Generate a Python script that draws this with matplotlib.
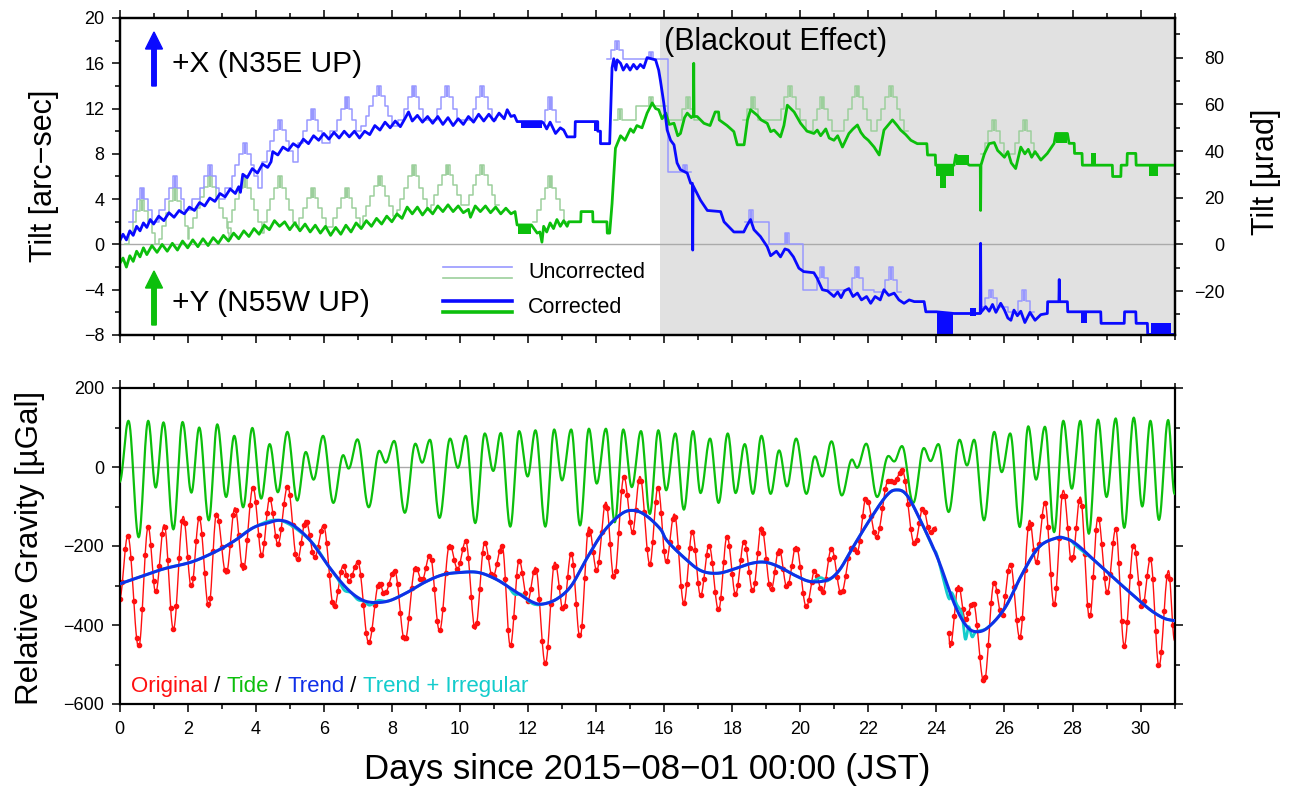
import numpy as np
import matplotlib
matplotlib.use("Agg")
import matplotlib.pyplot as plt
from matplotlib.ticker import MultipleLocator
from matplotlib.patches import FancyArrow
from matplotlib.transforms import IdentityTransform

plt.rcParams['font.family'] = ['Liberation Sans', 'DejaVu Sans']

# ------------------------------------------------------------------ DATA
# ---- Top panel: tilt [arc-sec]
tilt_x_day = [0.00, 0.10, 0.20, 0.30, 0.40, 0.50, 0.60, 0.70, 0.80, 0.90, 1.00, 1.15, 1.30, 1.45, 1.60,
              1.75, 1.90, 2.05, 2.20, 2.35, 2.50, 2.65, 2.80, 2.95, 3.10, 3.25, 3.40, 3.50, 3.55, 3.62,
              3.75, 3.90, 4.05, 4.20, 4.35, 4.45, 4.50, 4.65, 4.80, 4.95, 5.10, 5.25, 5.40, 5.55, 5.70,
              5.85, 6.00, 6.15, 6.30, 6.45, 6.60, 6.75, 6.90, 7.05, 7.20, 7.35, 7.50, 7.65, 7.80, 7.95,
              8.10, 8.25, 8.40, 8.49, 8.60, 8.75, 8.90, 9.05, 9.20, 9.35, 9.50, 9.65, 9.80, 9.95, 10.10,
              10.25, 10.40, 10.55, 10.70, 10.85, 11.00, 11.15, 11.30, 11.39, 11.50, 11.60, 11.68, 12.40,
              12.46, 12.55, 12.65, 12.81, 12.95, 13.05, 13.15, 13.38, 13.39, 14.05, 14.05, 14.13, 14.13,
              14.40, 14.47, 14.52, 14.58, 14.62, 14.72, 14.80, 14.90, 15.00, 15.10, 15.20, 15.30, 15.40,
              15.50, 15.75, 15.84, 15.89, 15.99, 16.09, 16.19, 16.29, 16.38, 16.48, 16.68, 16.78, 16.83,
              16.84, 16.85, 16.97, 17.07, 17.27, 17.66, 17.76, 18.05, 18.34, 18.44, 18.54, 18.64, 18.83,
              19.03, 19.13, 19.30, 19.42, 19.55, 19.65, 19.80, 19.96, 20.10, 20.40, 20.50, 20.65, 20.80,
              20.99, 21.10, 21.20, 21.30, 21.43, 21.55, 21.68, 21.80, 21.95, 22.07, 22.20, 22.35, 22.46,
              22.60, 22.76, 22.90, 23.05, 23.20, 23.35, 23.64, 23.69, 24.00, 24.52, 25.11, 25.29, 25.30,
              25.31, 25.45, 25.55, 25.65, 25.75, 25.89, 26.00, 26.10, 26.19, 26.28, 26.38, 26.48, 26.60,
              26.75, 26.90, 27.07, 27.26, 27.27, 27.60, 27.61, 27.62, 27.85, 27.86, 28.83, 28.84, 29.52,
              29.53, 29.86, 29.87, 30.20, 30.21, 31.00]
tilt_x_val = [0.3, 0.9, 0.4, 1.2, 0.8, 1.6, 1.2, 1.9, 1.5, 2.2, 1.8, 2.5, 2.1, 2.8, 2.4,
              3.0, 2.7, 3.3, 3.0, 3.7, 3.4, 4.1, 3.8, 4.5, 4.2, 4.9, 4.5, 5.1, 4.6, 6.2,
              5.9, 6.7, 6.3, 7.1, 6.8, 7.3, 8.2, 7.9, 8.6, 8.3, 8.9, 8.6, 9.3, 8.9, 9.6,
              9.2, 9.8, 9.3, 9.9, 9.4, 10.0, 9.5, 10.0, 9.4, 10.0, 9.7, 10.5, 10.1, 10.8, 10.3,
              10.9, 10.4, 11.2, 11.7, 10.9, 11.4, 10.8, 11.3, 10.7, 11.3, 10.6, 11.2, 10.5, 11.1, 10.6,
              11.3, 10.8, 11.5, 10.9, 11.5, 10.9, 11.6, 11.1, 11.9, 11.3, 11.4, 10.85, 10.85,
              10.7, 10.2, 10.8, 9.8, 10.3, 10.1, 9.5, 9.5, 10.85, 10.85, 10.0, 10.0, 8.9,
              8.9, 15.6, 16.4, 15.4, 16.3, 16.0, 15.4, 15.9, 15.4, 15.9, 15.5, 15.9, 15.6,
              16.5, 16.3, 15.4, 14.5, 12.5, 10.1, 9.2, 8.8, 7.2, 6.6, 6.3, 5.4, 5.4,
              -0.5, 5.2, 4.5, 3.9, 3.0, 2.9, 2.0, 1.1, 1.1, 1.7, 2.2, 1.3, 0.7,
              -0.2, -1.0, -0.6, -1.1, -0.4, -0.5, -1.1, -2.1, -2.4, -2.5, -3.0, -4.0, -4.1,
              -4.6, -4.2, -4.7, -4.1, -3.9, -4.6, -4.3, -4.9, -4.6, -5.2, -4.6, -4.9, -4.0,
              -4.5, -4.3, -4.9, -5.2, -4.9, -5.05, -5.05, -5.95, -5.95, -6.1, -6.1, -6.1, 0.1,
              -6.0, -5.5, -5.9, -5.3, -6.0, -5.2, -5.8, -6.5, -6.7, -5.8, -6.3, -5.9, -6.9,
              -6.0, -6.7, -6.2, -6.1, -5.06, -5.06, -3.1, -5.06, -5.06, -5.95, -5.95, -6.97, -6.97,
              -5.95, -5.95, -6.97, -6.97, -7.95, -7.95]

tilt_y_day = [0.00, 0.10, 0.20, 0.30, 0.40, 0.50, 0.60, 0.70, 0.80, 0.95, 1.10, 1.25, 1.40, 1.55, 1.70,
              1.85, 2.00, 2.15, 2.30, 2.45, 2.60, 2.75, 2.90, 3.05, 3.20, 3.35, 3.50, 3.65, 3.80, 3.95,
              4.10, 4.25, 4.40, 4.55, 4.70, 4.85, 5.00, 5.15, 5.30, 5.45, 5.60, 5.75, 5.90, 6.05, 6.20,
              6.35, 6.50, 6.65, 6.80, 6.95, 7.10, 7.25, 7.40, 7.55, 7.70, 7.85, 8.00, 8.15, 8.30, 8.45,
              8.60, 8.75, 8.90, 9.05, 9.20, 9.35, 9.50, 9.65, 9.80, 9.95, 10.10, 10.25, 10.31, 10.45,
              10.60, 10.75, 10.90, 11.05, 11.20, 11.35, 11.50, 11.62, 11.68, 12.10, 12.27, 12.35, 12.41,
              12.46, 12.55, 12.65, 12.75, 12.85, 12.95, 13.05, 13.15, 13.20, 13.55, 13.56, 13.90, 13.91,
              14.32, 14.33, 14.40, 14.47, 14.57, 14.72, 14.85, 15.01, 15.10, 15.20, 15.35, 15.50, 15.65,
              15.75, 15.84, 15.94, 16.05, 16.15, 16.29, 16.40, 16.48, 16.60, 16.68, 16.80, 16.86, 16.87,
              16.88, 16.97, 17.17, 17.35, 17.50, 17.60, 17.62, 17.85, 18.05, 18.15, 18.35, 18.45, 18.54,
              18.74, 18.85, 19.03, 19.13, 19.23, 19.42, 19.52, 19.62, 19.82, 20.01, 20.20, 20.40, 20.50,
              20.60, 20.75, 20.85, 20.99, 21.10, 21.24, 21.43, 21.55, 21.68, 21.78, 21.88, 22.00, 22.17,
              22.32, 22.46, 22.71, 22.85, 22.95, 23.10, 23.25, 23.44, 23.72, 23.74, 23.97, 23.98, 24.52,
              24.57, 24.97, 25.29, 25.30, 25.31, 25.41, 25.55, 25.70, 25.80, 25.89, 26.00, 26.10, 26.20,
              26.33, 26.40, 26.48, 26.60, 26.70, 26.80, 26.90, 27.07, 27.26, 27.46, 27.51, 27.85, 27.90,
              28.05, 28.06, 28.28, 28.29, 29.17, 29.18, 29.42, 29.43, 29.60, 29.61, 29.86, 29.87, 31.00]
tilt_y_val = [-1.7, -1.2, -2.0, -1.0, -1.5, -0.6, -1.1, -0.3, -0.9, -0.1, -0.7, 0.0, -0.6, 0.1, -0.5,
              0.3, -0.3, 0.4, -0.2, 0.5, -0.1, 0.6, 0.1, 0.8, 0.3, 1.0, 0.5, 1.2, 0.7, 1.4,
              0.9, 1.7, 1.3, 2.1, 1.6, 2.0, 1.3, 1.9, 1.2, 1.8, 1.1, 1.7, 1.0, 1.6, 0.8,
              1.5, 0.9, 1.7, 1.1, 1.9, 1.4, 2.1, 1.6, 2.3, 1.8, 2.5, 2.0, 2.7, 2.3, 3.3,
              2.7, 3.3, 2.6, 3.2, 2.7, 3.4, 2.9, 3.5, 2.9, 3.4, 2.8, 3.1, 2.4, 3.4,
              2.9, 3.4, 2.8, 3.3, 2.7, 3.2, 2.7, 2.9, 1.72, 1.72, 1.0, 1.1, 0.2,
              1.6, 1.1, 1.9, 1.4, 2.2, 1.6, 2.1, 1.6, 2.0, 2.0, 2.9, 2.9, 2.0,
              2.0, 1.0, 1.0, 3.6, 8.5, 9.6, 9.2, 10.2, 9.9, 10.5, 10.3, 11.6, 12.5,
              12.0, 11.9, 11.1, 11.6, 10.6, 10.7, 9.6, 9.8, 11.2, 11.6, 11.2, 11.4, 16.0,
              11.3, 11.3, 10.7, 10.5, 11.7, 11.7, 11.0, 10.5, 9.96, 8.8, 8.8, 11.0, 11.9,
              11.4, 11.0, 10.7, 9.96, 10.1, 9.5, 10.5, 12.3, 11.7, 10.7, 10.0, 9.8, 10.1,
              9.6, 10.2, 9.4, 9.2, 9.6, 8.6, 9.8, 10.2, 10.55, 9.9, 9.5, 9.2, 8.6,
              7.9, 10.1, 11.0, 10.5, 10.1, 9.7, 9.2, 8.9, 8.9, 7.9, 7.9, 7.0, 7.0,
              7.9, 7.0, 7.0, 3.0, 7.0, 8.0, 8.9, 9.0, 8.3, 8.04, 7.7, 8.2, 7.2,
              6.7, 7.6, 8.6, 8.0, 8.4, 7.7, 8.2, 7.45, 8.04, 8.93, 9.8, 9.8, 8.93,
              8.93, 8.04, 8.04, 7.0, 7.0, 6.0, 6.0, 7.0, 7.0, 8.04, 8.04, 7.0, 7.0]

# dense-toggle blocks of the corrected records: (start day, end day, low, high)
blocks_x = [(11.80, 12.40, 10.25, 10.85), (13.95, 14.05, 10.0, 10.85), (24.03, 24.50, -7.95, -6.1),
            (25.00, 25.15, -6.3, -5.6), (28.24, 28.44, -6.97, -5.95), (30.30, 30.90, -7.95, -6.97)]
blocks_y = [(11.72, 12.10, 0.9, 1.72), (23.98, 24.52, 6.0, 7.0), (24.12, 24.28, 4.95, 6.0),
            (24.57, 24.97, 7.0, 7.9), (27.51, 27.85, 8.93, 9.8), (28.54, 28.69, 7.0, 8.04),
            (30.25, 30.50, 6.0, 7.0)]

# uncorrected daily staircase humps: centre day, base level, top level [arc-sec]
unc_x_day = [0.67, 1.62, 2.65, 3.68, 4.71, 5.67, 6.67, 7.62, 8.64, 9.62, 10.65, 12.66, 14.62, 15.62,
             16.62, 18.55, 19.60, 20.65, 21.68, 22.66, 25.60, 26.58]
unc_x_base = [2.0, 3.0, 4.0, 5.0, 7.3, 9.0, 10.0, 10.5, 11.0, 11.0, 11.0, 10.8, 16.4, 16.4,
              6.4, 2.0, 0.0, -4.0, -4.0, -4.2, -5.5, -6.0]
unc_x_top = [5.0, 6.0, 7.0, 9.0, 11.0, 12.0, 13.0, 14.0, 14.0, 14.0, 14.0, 13.0, 18.0, 17.0,
             7.0, 3.0, 1.0, -2.0, -2.0, -2.0, -4.0, -4.0]
unc_y_day = [0.66, 1.63, 2.65, 3.68, 4.71, 5.67, 6.67, 7.64, 8.64, 9.64, 10.65, 12.66, 14.70, 15.62,
             16.70, 18.60, 19.70, 20.65, 21.68, 22.66, 25.70, 26.60]
unc_y_base = [0.0, 0.5, 0.5, 1.0, 2.0, 1.5, 1.5, 2.5, 3.0, 3.5, 3.5, 2.0, 11.0, 12.2,
              11.0, 11.0, 11.0, 10.0, 10.0, 10.0, 8.0, 8.0]
unc_y_top = [3.9, 5.0, 6.0, 6.0, 6.0, 5.0, 5.0, 6.0, 7.0, 7.0, 7.0, 6.0, 12.0, 13.0,
             13.0, 13.0, 14.0, 13.0, 14.0, 14.0, 11.0, 11.0]

blackout_start = 15.875

# ---- Bottom panel: gravity [µGal]
tide_day = [0.00, 0.26, 0.56, 0.84, 1.06, 1.29, 1.58, 1.85, 2.11, 2.34, 2.62, 2.87, 3.13, 3.37, 3.63,
            3.90, 4.16, 4.41, 4.65, 4.93, 5.22, 5.47, 5.70, 5.98, 6.28, 6.57, 6.73, 6.99, 7.32, 7.63,
            7.82, 8.07, 8.38, 8.69, 8.89, 9.12, 9.40, 9.71, 9.94, 10.17, 10.45, 10.73, 10.98, 11.20,
            11.48, 11.74, 11.99, 12.22, 12.51, 12.77, 13.00, 13.27, 13.53, 13.79, 14.02, 14.29, 14.55,
            14.80, 15.05, 15.32, 15.58, 15.83, 16.06, 16.33, 16.58, 16.85, 17.07, 17.35, 17.60, 17.87,
            18.10, 18.37, 18.61, 18.86, 19.13, 19.38, 19.61, 19.88, 20.18, 20.43, 20.65, 20.92, 21.22,
            21.52, 21.67, 21.94, 22.26, 22.59, 22.76, 22.99, 23.32, 23.63, 23.83, 24.06, 24.36, 24.68,
            24.90, 25.11, 25.40, 25.70, 25.92, 26.17, 26.45, 26.70, 26.93, 27.19, 27.46, 27.73, 27.98,
            28.23, 28.48, 28.75, 29.00, 29.27, 29.52, 29.80, 30.05, 30.29, 30.54, 30.81, 31.00]
tide_val = [-38, 117, -178, 117, -52, 113, -158, 114, -65, 100, -135, 108, -76, 79, -102,
            99, -80, 58, -64, 89, -85, 38, -32, 79, -91, 30, -4, 70, -102, 41,
            11, 66, -116, 59, 11, 69, -129, 72, -2, 79, -142, 85, -10, 86,
            -151, 91, -24, 93, -151, 95, -34, 95, -148, 97, -42, 97, -140,
            95, -51, 91, -119, 93, -59, 85, -108, 91, -66, 72, -91, 85,
            -66, 58, -68, 79, -68, 42, -49, 72, -68, 27, -24, 65, -72,
            19, -2, 59, -76, 28, 14, 53, -91, 48, 15, 58, -114, 69,
            4, 69, -135, 89, -13, 85, -152, 103, -32, 102, -165, 117, -55,
            117, -169, 120, -76, 123, -154, 125, -100, 117, -134, 119, -68]

# observed gravity (peaks / troughs); NaN marks the data gap
orig_day = [0.00, 0.24, 0.56, 0.84, 1.06, 1.31, 1.58, 1.87, 2.11, 2.34, 2.62, 2.85, 3.13, 3.39, 3.63,
            3.92, 4.18, 4.41, 4.65, 4.94, 5.22, 5.47, 5.73, 5.99, 6.30, 6.57, 6.74, 7.00, 7.32, 7.63,
            7.78, 8.08, 8.38, 8.70, 8.88, 9.12, 9.40, 9.70, 9.93, 10.17, 10.45, 10.73, 10.96, 11.24,
            11.48, 11.74, 11.99, 12.22, 12.51, 12.79, 13.04, 13.27, 13.53, 13.79, 14.02, 14.29, 14.53,
            14.82, 15.07, 15.29, 15.58, 15.82, 16.06, 16.30, 16.58, 16.83, 17.07, 17.32, 17.60, 17.85,
            18.10, 18.35, 18.61, 18.86, 19.14, 19.38, 19.61, 19.88, 20.18, 20.43, 20.65, 20.92, 21.20,
            21.52, 21.67, 21.94, 22.24, 22.59, 22.76, 22.99, 23.36, 23.61, 23.81, 23.98, np.nan,
            24.36, 24.40, 24.65, 24.85, 25.08, 25.40, 25.70, 25.92, 26.17, 26.45, 26.74, 26.93, 27.19,
            27.46, 27.73, 27.98, 28.23, 28.50, 28.75, 29.02, 29.27, 29.52, 29.80, 30.05, 30.29, 30.54,
            30.82, 31.00]
orig_val = [-334, -174, -457, -152, -318, -146, -411, -125, -305, -129, -356, -117, -271, -103, -262,
            -52, -224, -80, -195, -49, -237, -135, -229, -148, -356, -250, -288, -241, -445, -292,
            -322, -262, -440, -252, -288, -222, -415, -196, -258, -188, -411, -191, -279, -199,
            -453, -237, -339, -254, -498, -241, -364, -218, -432, -152, -262, -89, -284,
            -25, -165, -24, -246, -51, -241, -119, -345, -163, -326, -199, -362, -176,
            -322, -188, -315, -152, -312, -207, -305, -201, -354, -262, -318, -207, -320,
            -203, -215, -78, -178, -34, -38, -7, -196, -103, -165, -152, np.nan,
            -420, -457, -300, -385, -343, -546, -292, -377, -244, -432, -135, -241, -91,
            -349, -59, -241, -76, -383, -127, -318, -157, -453, -195, -356, -233, -504,
            -262, -440]

trend_day = [0.00, 0.77, 1.29, 2.13, 2.87, 3.39, 3.92, 4.34, 4.71, 5.08, 5.60, 6.13, 6.65, 7.07, 7.44,
             7.91, 8.44, 8.96, 9.49, 10.01, 10.54, 11.06, 11.59, 12.11, 12.43, 12.85, 13.27, 13.69,
             14.21, 14.74, 15.11, 15.47, 15.89, 16.08, 16.58, 17.07, 17.57, 18.07, 18.56, 18.96, 19.36,
             19.86, 20.30, 20.80, 21.15, 21.55, 22.04, 22.54, 22.84, 23.14, 23.53, 24.03, 24.53, 24.88,
             25.17, 25.52, 26.02, 26.52, 27.01, 27.51, 27.76, 28.11, 28.70, 29.30, 29.80, 30.29, 30.69,
             31.00]
trend_val = [-296, -273, -258, -240, -212, -186, -154, -142, -135, -146, -186, -250, -305, -334, -343,
             -339, -318, -292, -273, -267, -267, -284, -313, -341, -347, -334, -301, -237,
             -165, -119, -110, -123, -157, -186, -229, -262, -269, -258, -244, -241, -252,
             -275, -290, -286, -261, -203, -134, -72, -58, -72, -135, -229, -347, -402,
             -417, -406, -356, -271, -203, -180, -180, -195, -241, -288, -326, -362, -383,
             -389]

trirr_day = [0.00, 1.29, 2.13, 2.87, 3.39, 3.92, 4.71, 5.60, 6.13, 6.40, 6.60, 6.80, 7.00, 7.20, 7.35,
             7.60, 7.91, 8.44, 8.96, 9.49, 10.01, 10.54, 11.06, 11.40, 11.60, 11.80, 12.00, 12.20,
             12.43, 12.85, 13.27, 13.69, 14.21, 14.74, 15.11, 15.47, 15.89, 16.08, 16.58, 17.07,
             17.57, 18.07, 18.56, 18.96, 19.36, 19.86, 20.30, 20.60, 20.80, 21.15, 21.55, 22.04,
             22.54, 22.84, 23.14, 23.53, 23.90, 24.03, 24.35, 24.45, 24.60, 24.75, 24.85, 24.95,
             25.05, 25.17, 25.52, 26.02, 26.52, 27.01, 27.51, 27.76, 27.95, 28.11, 28.70, 29.30,
             29.80, 30.29, 30.69, 31.00]
trirr_val = [-296, -258, -240, -212, -186, -154, -135, -186, -250, -282, -312, -318, -336, -340, -350,
             -338, -339, -318, -292, -273, -267, -267, -284, -302, -322, -322, -338, -348,
             -347, -334, -301, -237, -165, -119, -110, -123, -157, -186, -229, -262,
             -269, -258, -244, -241, -252, -275, -290, -280, -288, -261, -203, -134,
             -72, -58, -72, -135, -205, -226, -330, -318, -348, -372, -436, -404,
             -430, -417, -406, -356, -271, -203, -180, -180, -186, -200, -241, -288,
             -326, -362, -383, -389]

ARCSEC_TO_URAD = 4.8481

# ------------------------------------------------------------------ helpers
def eased(days, vals, n=16):
    """Smooth curve through successive extrema (cosine easing between them)."""
    xs, ys = [], []
    t = np.linspace(0, 1, n, endpoint=False)
    w = (1 - np.cos(np.pi * t)) / 2
    for i in range(len(days) - 1):
        xs.append(days[i] + (days[i + 1] - days[i]) * t)
        ys.append(vals[i] + (vals[i + 1] - vals[i]) * w)
    xs.append([days[-1]]); ys.append([vals[-1]])
    return np.concatenate(xs), np.concatenate(ys)


def catmull(days, vals, n=16):
    P = np.column_stack([days, vals]).astype(float)
    P = np.vstack([P[0], P, P[-1]])
    out = []
    s = np.linspace(0, 1, n, endpoint=False)[:, None]
    for i in range(1, len(P) - 2):
        p0, p1, p2, p3 = P[i - 1], P[i], P[i + 1], P[i + 2]
        c = 0.5 * ((2 * p1) + (-p0 + p2) * s + (2 * p0 - 5 * p1 + 4 * p2 - p3) * s ** 2
                   + (-p0 + 3 * p1 - 3 * p2 + p3) * s ** 3)
        out.append(c)
    out.append(P[-2][None, :])
    out = np.vstack(out)
    return out[:, 0], out[:, 1]


def split_nan(days, vals):
    segs, cd, cv = [], [], []
    for d, v in zip(days, vals):
        if np.isnan(d):
            segs.append((cd, cv)); cd, cv = [], []
        else:
            cd.append(d); cv.append(v)
    if cd:
        segs.append((cd, cv))
    return segs


def humps(days, bases, tops, w=0.11, tab=0.12, ext=0.12, max_gap=1.2):
    segs, xs, ys = [], [], []
    prev_end = None
    tabs = []
    for c, b, t in zip(days, bases, tops):
        n = max(1, int(round(abs(t - b))))
        h = (t - b) / n
        left = c - tab / 2 - (n - 1) * w
        right = c + tab / 2 + (n - 1) * w
        if xs and left - prev_end > max_gap:
            xs.append(prev_end + ext); ys.append(ys[-1])
            segs.append((xs, ys)); xs, ys = [], []
        if xs:
            mid = (prev_end + left) / 2
            xs += [mid, mid]; ys += [ys[-1], b]
        else:
            xs.append(left - ext); ys.append(b)
        for i in range(n):
            x = left + i * w
            xs += [x, x]; ys += [b + i * h, b + (i + 1) * h]
        for i in range(n):
            x = c + tab / 2 + i * w
            xs += [x, x]; ys += [t - i * h, t - (i + 1) * h]
        prev_end = right
        tabs.append((c, t - h, t))
    if xs:
        xs.append(prev_end + ext); ys.append(ys[-1])
        segs.append((xs, ys))
    return segs, tabs

# ------------------------------------------------------------------ figure
W, H = 1293, 793
fig = plt.figure(figsize=(W / 100, H / 100), dpi=100)
fig.patch.set_facecolor('white')


def fax(l, t, r, b):
    return fig.add_axes([l / W, 1 - b / H, (r - l) / W, (b - t) / H])


ax1 = fax(119.6, 18, 1174.6, 335)
ax2 = fax(119.6, 388, 1174.6, 704)

C_BLUE = '#0a0aff'
C_GREEN = '#0cbf0c'
C_LBLUE = '#9898ff'
C_LGREEN = '#9ccf9c'
C_RED = '#ff1010'
C_CYAN = '#14cccc'
C_TREND = '#1030e8'

# ---- top panel
ax1.set_xlim(0, 31)
ax1.set_ylim(-8, 20)
ax1.axvspan(blackout_start, 31, color='#e1e1e1', lw=0, zorder=0)
ax1.axhline(0, color='#aaaaaa', lw=1.0, zorder=1)

for days, bases, tops, col in [(unc_y_day, unc_y_base, unc_y_top, C_LGREEN),
                               (unc_x_day, unc_x_base, unc_x_top, C_LBLUE)]:
    segs, tabs = humps(days, bases, tops)
    for xs, ys in segs:
        ax1.plot(xs, ys, color=col, lw=1.1, zorder=2)
    for c, lo, hi in tabs:
        ax1.fill_between([c - 0.035, c + 0.035], lo, hi, color=col, lw=0, zorder=2)

ax1.plot(tilt_y_day, tilt_y_val, color=C_GREEN, lw=2.0, zorder=3)
for d0, d1, lo, hi in blocks_y:
    ax1.fill_between([d0, d1], lo, hi, color=C_GREEN, lw=0, zorder=3)
ax1.plot(tilt_x_day, tilt_x_val, color=C_BLUE, lw=2.0, zorder=4)
for d0, d1, lo, hi in blocks_x:
    ax1.fill_between([d0, d1], lo, hi, color=C_BLUE, lw=0, zorder=4)

ax1.xaxis.set_major_locator(MultipleLocator(2))
ax1.xaxis.set_minor_locator(MultipleLocator(1))
ax1.yaxis.set_major_locator(MultipleLocator(4))
ax1.yaxis.set_minor_locator(MultipleLocator(2))
ax1.tick_params(axis='x', which='both', top=True, bottom=True, labelbottom=False, direction='out')
ax1.tick_params(axis='y', which='both', left=True, right=False, direction='out')
ax1.tick_params(which='major', length=6, width=1.1, labelsize=13, pad=5)
ax1.tick_params(which='minor', length=3.5, width=1.1)

ax1r = ax1.twinx()
ax1r.set_ylim(-8 * ARCSEC_TO_URAD, 20 * ARCSEC_TO_URAD)
ax1r.set_yticks([-20, 0, 20, 40, 60, 80])
ax1r.yaxis.set_minor_locator(MultipleLocator(10))
ax1r.tick_params(axis='y', which='major', direction='out', length=6, width=1.1, labelsize=13, pad=30)
ax1r.tick_params(axis='y', which='minor', direction='out', length=3.5, width=1.1)
for lab in ax1r.get_yticklabels():
    lab.set_horizontalalignment('right')

for a in (ax1, ax1r, ax2):
    for s in a.spines.values():
        s.set_linewidth(1.6)

# legend of top panel
ax1.plot([0.3065, 0.372], [0.2155, 0.2155], transform=ax1.transAxes, color=C_LBLUE, lw=1.2, zorder=6)
ax1.plot([0.3065, 0.372], [0.1798, 0.1798], transform=ax1.transAxes, color=C_LGREEN, lw=1.2, zorder=6)
ax1.plot([0.3065, 0.372], [0.1073, 0.1073], transform=ax1.transAxes, color=C_BLUE, lw=2.6, zorder=6)
ax1.plot([0.3065, 0.372], [0.0735, 0.0735], transform=ax1.transAxes, color=C_GREEN, lw=2.6, zorder=6)
ax1.text(0.3871, 0.1965, 'Uncorrected', transform=ax1.transAxes, fontsize=15.5, va='center', ha='left')
ax1.text(0.3871, 0.0883, 'Corrected', transform=ax1.transAxes, fontsize=15.5, va='center', ha='left')

ax1.text(0.0497, 0.855, '+X (N35E UP)', transform=ax1.transAxes, fontsize=21.5, va='center', ha='left')
ax1.text(0.0497, 0.101, '+Y (N55W UP)', transform=ax1.transAxes, fontsize=21.5, va='center', ha='left')
ax1.text(0.516, 0.924, '(Blackout Effect)', transform=ax1.transAxes, fontsize=22, va='center', ha='left')

fig.add_artist(FancyArrow(154, H - 86, 0, 54, width=4.5, head_width=17, head_length=17,
                          length_includes_head=True, color=C_BLUE, transform=IdentityTransform()))
fig.add_artist(FancyArrow(154, H - 325, 0, 54, width=4.5, head_width=17, head_length=17,
                          length_includes_head=True, color=C_GREEN, transform=IdentityTransform()))

# ---- bottom panel
ax2.set_xlim(0, 31)
ax2.set_ylim(-600, 200)
ax2.axhline(0, color='#aaaaaa', lw=1.0, zorder=1)

tx, ty = eased(tide_day, tide_val)
ax2.plot(tx, ty, color=C_GREEN, lw=1.6, zorder=3)

for sd, sv in split_nan(orig_day, orig_val):
    ox, oy = eased(sd, sv)
    ax2.plot(ox, oy, color=C_RED, lw=1.0, zorder=2)
    mx = np.arange(sd[0], sd[-1], 1 / 12)
    ax2.plot(mx, np.interp(mx, ox, oy), ls='none', marker='o', ms=3.0, color=C_RED, zorder=2)

cx, cy = catmull(trirr_day, trirr_val, n=6)
ax2.plot(cx, cy, color=C_CYAN, lw=2.0, zorder=4)
rx, ry = catmull(trend_day, trend_val)
ax2.plot(rx, ry, color=C_TREND, lw=2.2, zorder=5)

ax2.xaxis.set_major_locator(MultipleLocator(2))
ax2.xaxis.set_minor_locator(MultipleLocator(1))
ax2.yaxis.set_major_locator(MultipleLocator(200))
ax2.yaxis.set_minor_locator(MultipleLocator(100))
ax2.tick_params(which='both', direction='out', top=True, right=True, bottom=True, left=True)
ax2.tick_params(which='major', length=6, width=1.1, labelsize=13, pad=5)
ax2.tick_params(which='minor', length=3.5, width=1.1)
ax2.tick_params(axis='x', which='major', pad=6.5)

# coloured legend line
parts = [('Original', C_RED), (' / ', 'black'), ('Tide', C_GREEN), (' / ', 'black'),
         ('Trend', C_TREND), (' / ', 'black'), ('Trend + Irregular', C_CYAN)]
prev = ax2.text((131 - 119.6) / 1055, (704 - 697) / 316, parts[0][0], transform=ax2.transAxes,
                color=parts[0][1], fontsize=16, ha='left', va='bottom')
for txt, col in parts[1:]:
    prev = ax2.annotate(txt, xy=(1, 0), xycoords=prev, color=col, fontsize=16,
                        ha='left', va='bottom')

# axis titles
fig.text(44 / W, 1 - 176 / H, 'Tilt [arc\u2212sec]', rotation=90, fontsize=22, ha='center', va='center')
fig.text(1266 / W, 1 - 172 / H, 'Tilt [\u00b5rad]', rotation=90, fontsize=22, ha='center', va='center')
fig.text(30 / W, 1 - 548 / H, 'Relative Gravity [\u00b5Gal]', rotation=90, fontsize=22.5,
         ha='center', va='center')
fig.text(647 / W, 1 - 770 / H, 'Days since 2015\u221208\u221201 00:00 (JST)', fontsize=25,
         ha='center', va='center')

fig.savefig('out.png', dpi=100, facecolor='white')
